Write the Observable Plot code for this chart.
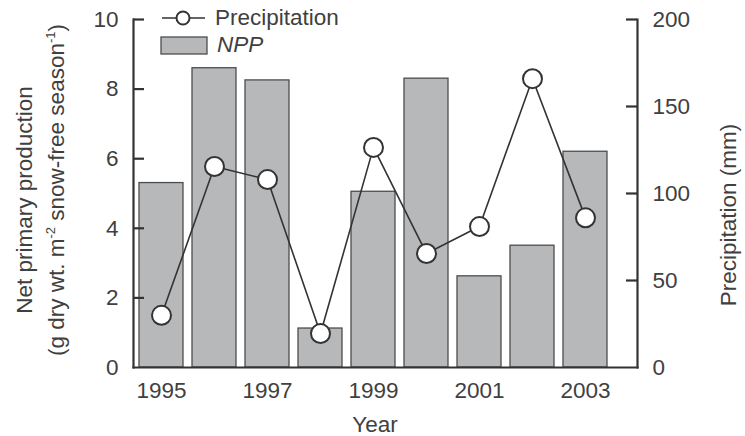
<!DOCTYPE html>
<html><head><meta charset="utf-8">
<script src="https://cdn.jsdelivr.net/npm/d3@7"></script>
<script src="https://cdn.jsdelivr.net/npm/@observablehq/plot@0.6"></script>
<style>
body{margin:0;background:#fff;}
#wrap{position:relative;width:745px;height:436px;font-family:"Liberation Sans",Arial,sans-serif;color:#404040;}
.lab{position:absolute;white-space:nowrap;font-size:22.5px;line-height:1;transform:translate(-50%,-50%);}
.rot{transform:translate(-50%,-50%) rotate(-90deg);}
sup{font-size:13px;vertical-align:0;position:relative;top:-9px;}
#legend{position:absolute;left:0;top:0;}
</style></head><body><div id="wrap"></div>
<script>
const years = [1995, 1996, 1997, 1998, 1999, 2000, 2001, 2002, 2003];
const npp = [5.3, 8.6, 8.25, 1.12, 5.05, 8.3, 2.62, 3.5, 6.2];
const precipitation = [30, 115.5, 108, 19.5, 126.5, 65.5, 81, 166, 86];
const nppTicks = [2, 4, 6, 8, 10];
const nppLabels = [0, 2, 4, 6, 8, 10];
const precipTicks = [50, 100, 150, 200];
const precipLabels = [0, 50, 100, 150, 200];
const yearTicks = [1995, 1997, 1999, 2001, 2003];
const mmPerUnit = 20;

const table = years.map((year, i) => ({year, npp: npp[i], precip: precipitation[i]}));
const ink = "#333333";
const txt = "#404040";
const W = 745, H = 436, ML = 133, MR = 108, MT = 19, MB = 69;
const frameW = W - ML - MR;
const tickLen = 11;

const plot = Plot.plot({
  width: W, height: H,
  marginLeft: ML, marginRight: MR, marginTop: MT, marginBottom: MB,
  style: {fontFamily: "Liberation Sans, Arial, sans-serif", fontSize: "22.5px", color: txt, background: "white"},
  x: {type: "band", domain: years, paddingInner: 0.17, paddingOuter: 0.1, insetRight: 25},
  y: {domain: [0, 10]},
  marks: [
    Plot.barY(table, {x: "year", y: "npp", fill: "#b7b8ba", stroke: "#4d4d4d", strokeWidth: 1.3}),
    Plot.line(table, {x: "year", y: d => d.precip / mmPerUnit, stroke: ink, strokeWidth: 1.6}),
    Plot.dot(table, {x: "year", y: d => d.precip / mmPerUnit, r: 9.5, fill: "white", stroke: ink, strokeWidth: 2, symbol: "circle"}),
    Plot.frame({anchor: "left", stroke: ink, strokeWidth: 2.2}),
    Plot.frame({anchor: "right", stroke: ink, strokeWidth: 2.2}),
    Plot.frame({anchor: "bottom", stroke: ink, strokeWidth: 2.2}),
    Plot.tickY(nppTicks, {y: d => d, stroke: ink, strokeWidth: 2.2, insetRight: frameW - tickLen}),
    Plot.tickY(precipTicks, {y: d => d / mmPerUnit, stroke: ink, strokeWidth: 2.2, insetLeft: frameW - tickLen}),
    Plot.axisY(nppLabels, {anchor: "left", tickSize: 0, tickPadding: 15, fill: txt, label: null}),
    Plot.axisY(precipLabels.map(d => d / mmPerUnit), {anchor: "right", tickSize: 0, tickPadding: 15, tickFormat: d => String(d * mmPerUnit), fill: txt, label: null}),
    Plot.axisX(yearTicks, {tickSize: 0, tickPadding: 15, tickFormat: d => String(d), fill: txt, label: null})
  ]
});
const wrap = document.getElementById("wrap");
wrap.appendChild(plot);

function addLabel(html, x, y, rot, extra) {
  const d = document.createElement("div");
  d.className = "lab" + (rot ? " rot" : "");
  d.style.left = x + "px"; d.style.top = y + "px";
  if (extra) Object.assign(d.style, extra);
  d.innerHTML = html;
  wrap.appendChild(d);
}
addLabel("Net primary production", 25, 200, true);
addLabel("(g dry wt. m<sup>-2</sup> snow-free season<sup>-1</sup>)", 57, 190, true);
addLabel("Precipitation (mm)", 729, 215, true);
addLabel("Year", 375, 425, false);
addLabel("Precipitation", 215, 18, false, {transform: "translateY(-50%)"});
addLabel("<i>NPP</i>", 217, 45, false, {transform: "translateY(-50%)"});

const ns = "http://www.w3.org/2000/svg";
const lg = document.createElementNS(ns, "svg");
lg.setAttribute("width", 745); lg.setAttribute("height", 60);
lg.setAttribute("id", "legend");
lg.innerHTML = `<line x1="162" x2="205" y1="18" y2="18" stroke="${ink}" stroke-width="1.6"/>
<circle cx="183" cy="18" r="6.5" fill="white" stroke="${ink}" stroke-width="2"/>
<rect x="161" y="37" width="46" height="17" fill="#b7b8ba" stroke="#4d4d4d" stroke-width="1.3"/>`;
wrap.appendChild(lg);
</script>
</body></html>
